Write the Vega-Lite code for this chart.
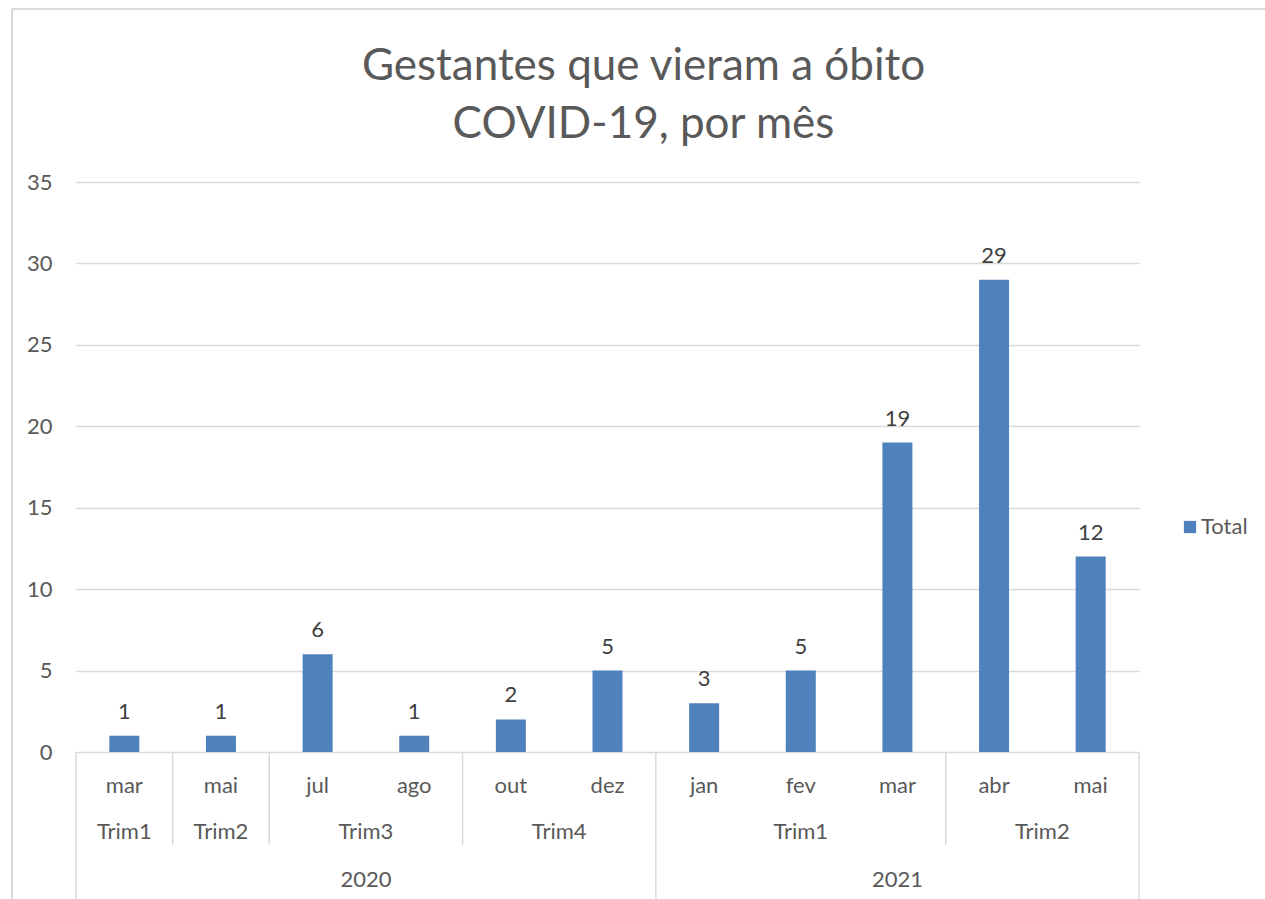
{
  "$schema": "https://vega.github.io/schema/vega-lite/v6.json",
  "width": 1063,
  "height": 570,
  "autosize": "none",
  "padding": {"left": 76, "top": 182, "right": 126, "bottom": 147},
  "background": "white",
  "config": {
    "view": {"stroke": null},
    "font": "Lato",
    "text": {"font": "Lato", "fontSize": 22, "color": "#595959"}
  },
  "title": {
    "text": ["Gestantes que vieram a óbito", "COVID-19, por mês"],
    "anchor": "middle",
    "dx": 36,
    "font": "Lato",
    "fontSize": 44,
    "fontWeight": "normal",
    "color": "#595959",
    "lineHeight": 58,
    "offset": -139
  },
  "datasets": {
    "meses": [
      {"idx": 0, "mes": "mar", "trim": "Trim1", "ano": "2020", "total": 1},
      {"idx": 1, "mes": "mai", "trim": "Trim2", "ano": "2020", "total": 1},
      {"idx": 2, "mes": "jul", "trim": "Trim3", "ano": "2020", "total": 6},
      {"idx": 3, "mes": "ago", "trim": "Trim3", "ano": "2020", "total": 1},
      {"idx": 4, "mes": "out", "trim": "Trim4", "ano": "2020", "total": 2},
      {"idx": 5, "mes": "dez", "trim": "Trim4", "ano": "2020", "total": 5},
      {"idx": 6, "mes": "jan", "trim": "Trim1", "ano": "2021", "total": 3},
      {"idx": 7, "mes": "fev", "trim": "Trim1", "ano": "2021", "total": 5},
      {"idx": 8, "mes": "mar", "trim": "Trim1", "ano": "2021", "total": 19},
      {"idx": 9, "mes": "abr", "trim": "Trim2", "ano": "2021", "total": 29},
      {"idx": 10, "mes": "mai", "trim": "Trim2", "ano": "2021", "total": 12}
    ],
    "trims": [
      {"c": 0, "trim": "Trim1"},
      {"c": 1, "trim": "Trim2"},
      {"c": 2.5, "trim": "Trim3"},
      {"c": 4.5, "trim": "Trim4"},
      {"c": 7, "trim": "Trim1"},
      {"c": 9.5, "trim": "Trim2"}
    ],
    "anos": [
      {"c": 2.5, "ano": "2020"},
      {"c": 8, "ano": "2021"}
    ],
    "separadores": [
      {"pos": -0.5, "nivel": "ano"},
      {"pos": 0.5, "nivel": "trim"},
      {"pos": 1.5, "nivel": "trim"},
      {"pos": 3.5, "nivel": "trim"},
      {"pos": 5.5, "nivel": "ano"},
      {"pos": 8.5, "nivel": "trim"},
      {"pos": 10.5, "nivel": "ano"}
    ]
  },
  "layer": [
    {
      "data": {"name": "meses"},
      "mark": {"type": "bar", "width": 30},
      "encoding": {
        "x": {"field": "idx", "type": "quantitative", "scale": {"domain": [-0.5, 10.5], "nice": false, "zero": false, "padding": 0}, "axis": null},
        "y": {
          "field": "total", "type": "quantitative",
          "scale": {"domain": [0, 35], "nice": false},
          "axis": {
            "title": null, "values": [0, 5, 10, 15, 20, 25, 30, 35],
            "domain": false, "ticks": false, "grid": true,
            "gridColor": "#D9D9D9", "gridWidth": 1.5,
            "labelFont": "Lato", "labelFontSize": 22, "labelColor": "#595959",
            "labelPadding": 24
          }
        },
        "color": {
          "datum": "Total", "type": "nominal",
          "scale": {"range": ["#4F81BD"]},
          "legend": {
            "title": null, "orient": "none", "legendX": 1103, "legendY": 334,
            "symbolType": "square", "symbolSize": 150, "symbolStrokeWidth": 0,
            "labelFont": "Lato", "labelFontSize": 22, "labelColor": "#595959", "labelOffset": 0
          }
        }
      }
    },
    {
      "data": {"name": "meses"},
      "mark": {"type": "text", "baseline": "alphabetic", "dy": -17, "color": "#404040"},
      "encoding": {
        "x": {"field": "idx", "type": "quantitative"},
        "y": {"field": "total", "type": "quantitative"},
        "text": {"field": "total"}
      }
    },
    {
      "data": {"name": "meses"},
      "mark": {"type": "text", "baseline": "middle", "dy": 34},
      "encoding": {
        "x": {"field": "idx", "type": "quantitative"},
        "y": {"datum": 0, "type": "quantitative"},
        "text": {"field": "mes"}
      }
    },
    {
      "data": {"name": "trims"},
      "mark": {"type": "text", "baseline": "middle", "dy": 80},
      "encoding": {
        "x": {"field": "c", "type": "quantitative"},
        "y": {"datum": 0, "type": "quantitative"},
        "text": {"field": "trim"}
      }
    },
    {
      "data": {"name": "anos"},
      "mark": {"type": "text", "baseline": "middle", "dy": 128},
      "encoding": {
        "x": {"field": "c", "type": "quantitative"},
        "y": {"datum": 0, "type": "quantitative"},
        "text": {"field": "ano"}
      }
    },
    {
      "data": {"name": "separadores"},
      "transform": [{"filter": "datum.nivel === 'trim'"}],
      "mark": {"type": "rule", "color": "#D9D9D9", "strokeWidth": 1.5},
      "encoding": {
        "x": {"field": "pos", "type": "quantitative"},
        "y": {"datum": 0, "type": "quantitative"},
        "y2": {"datum": -5.7}
      }
    },
    {
      "data": {"name": "separadores"},
      "transform": [{"filter": "datum.nivel === 'ano'"}],
      "mark": {"type": "rule", "color": "#D9D9D9", "strokeWidth": 1.5},
      "encoding": {
        "x": {"field": "pos", "type": "quantitative"},
        "y": {"datum": 0, "type": "quantitative"},
        "y2": {"datum": -9.3}
      }
    },
    {
      "data": {"values": [{"x": -1.162, "y": 45.62, "y2": -9.3}]},
      "mark": {"type": "rule", "color": "#D9D9D9", "strokeWidth": 2},
      "encoding": {
        "x": {"field": "x", "type": "quantitative"},
        "y": {"field": "y", "type": "quantitative"},
        "y2": {"field": "y2"}
      }
    },
    {
      "data": {"values": [{"x": -1.162, "x2": 11.9, "y": 45.62}]},
      "mark": {"type": "rule", "color": "#D9D9D9", "strokeWidth": 2},
      "encoding": {
        "x": {"field": "x", "type": "quantitative"},
        "x2": {"field": "x2"},
        "y": {"field": "y", "type": "quantitative"}
      }
    }
  ]
}
